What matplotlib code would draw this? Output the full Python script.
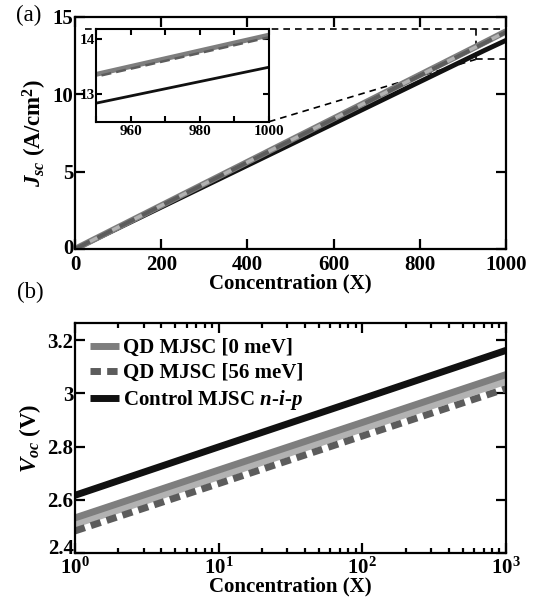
import numpy as np
import matplotlib
matplotlib.use("Agg")
from matplotlib import pyplot as plt
from matplotlib import transforms
from matplotlib.ticker import LogLocator, NullFormatter, FixedLocator

plt.rcParams['font.family'] = 'Liberation Serif'
plt.rcParams['font.weight'] = 'bold'
plt.rcParams['axes.labelweight'] = 'bold'
plt.rcParams['mathtext.fontset'] = 'custom'
plt.rcParams['mathtext.rm'] = 'Liberation Serif:bold'
plt.rcParams['mathtext.bf'] = 'Liberation Serif:bold'
plt.rcParams['mathtext.it'] = 'Liberation Serif:italic:bold'

# Jsc vs concentration (linear)
jsc_conc = [0, 950, 1000]
jsc_qd0 = [0, 13.36, 14.07]
jsc_qd_light = [0, 13.34, 14.05]
jsc_qd56 = [0, 13.32, 14.03]
jsc_ctrl = [0, 12.84, 13.49]

# zoom window drawn on main axes
box_x = [930, 1000]
box_y = [12.26, 14.20]

# Voc vs concentration (log)
voc_conc = [1, 10, 100, 1000]
voc_qd0 = [2.532, 2.712, 2.891, 3.071]
voc_qd_light = [2.508, 2.687, 2.867, 3.046]
voc_qd56 = [2.483, 2.661, 2.840, 3.018]
voc_ctrl = [2.617, 2.799, 2.980, 3.162]

legend_labels = ['QD MJSC [0 meV]', 'QD MJSC [56 meV]', 'Control MJSC $n$-$i$-$p$']

c_mid = '#7e7e7e'
c_light = '#b2b2b2'
c_dash = '#5c5c5c'
c_black = '#111111'

W, H = 537, 609
fig = plt.figure(figsize=(W / 100, H / 100), dpi=100)


def px_axes(l, t, r, b):
    return fig.add_axes([l / W, 1 - b / H, (r - l) / W, (b - t) / H])


def style(ax, size=15, major=7, minor=3.5, lw=1.6):
    for s in ax.spines.values():
        s.set_linewidth(lw)
    ax.tick_params(which='both', direction='in', top=True, right=True,
                   width=lw, labelsize=size)
    ax.tick_params(which='major', length=major)
    ax.tick_params(which='minor', length=minor)


def lift_first_ylabel(ax, pts):
    # nudge the lowest y tick label up so it clears the x tick labels
    lab = ax.yaxis.get_major_ticks()[0].label1
    lab.set_transform(lab.get_transform() +
                      transforms.ScaledTranslation(0, pts / 72, fig.dpi_scale_trans))


# ---- (a) Jsc ----
ax1 = px_axes(75, 17, 506, 249)
ax1.plot(jsc_conc, jsc_ctrl, color=c_black, lw=3.5, solid_capstyle='butt')
ax1.plot(jsc_conc, jsc_qd0, color=c_mid, lw=4.5, solid_capstyle='butt')
ax1.plot(jsc_conc, jsc_qd_light, color=c_light, lw=2.5, solid_capstyle='butt')
ax1.plot(jsc_conc, jsc_qd56, color=c_dash, lw=3, dashes=(4, 2))
ax1.set_xlim(0, 1000)
ax1.set_ylim(0, 15)
ax1.set_xticks([0, 200, 400, 600, 800, 1000])
ax1.set_yticks([0, 5, 10, 15])
style(ax1)
ax1.tick_params(axis='y', pad=1)
ax1.tick_params(axis='x', pad=4)
ax1.set_xlabel('Concentration (X)', fontsize=15, labelpad=-1)
ax1.set_ylabel('$J_{sc}$ (A/cm$^2$)', fontsize=16.5, labelpad=3)
lift_first_ylabel(ax1, 2)

# dashed zoom box and connectors
dk = dict(color='black', lw=1.2, ls=(0, (4, 3)), zorder=1)
ax1.plot([23, box_x[1]], [box_y[1], box_y[1]], **dk)
ax1.plot([box_x[0], box_x[1]], [box_y[0], box_y[0]], **dk)
ax1.plot([box_x[0], box_x[0]], [box_y[0], box_y[1]], **dk)
ax1.plot([450, box_x[0]], [8.23, box_y[0]], **dk)

fig.text(16 / W, 1 - 15 / H, '(a)', fontsize=16.5, fontweight='normal', va='center')

# inset
axi = px_axes(96, 29, 269, 122)
axi.plot(jsc_conc, jsc_ctrl, color=c_black, lw=2)
axi.plot(jsc_conc, jsc_qd0, color=c_mid, lw=3.5)
axi.plot(jsc_conc, jsc_qd56, color=c_dash, lw=1.8, dashes=(4, 2))
axi.set_xlim(950, 1000)
axi.set_ylim(12.5, 14.18)
axi.set_xticks([950, 960, 970, 980, 990, 1000])
axi.set_xticklabels(['', '960', '', '980', '', '1000'])
axi.set_yticks([13, 14])
axi.set_zorder(3)
style(axi, size=11, major=4, lw=1.5)
axi.tick_params(axis='y', pad=1)
axi.tick_params(axis='x', pad=2)

# ---- (b) Voc ----
ax2 = px_axes(75, 323, 506, 553)
ax2.plot(voc_conc, voc_qd_light, color=c_light, lw=5, solid_capstyle='butt')
ax2.plot(voc_conc, voc_qd0, color=c_mid, lw=5, solid_capstyle='butt',
         label=legend_labels[0])
ax2.plot(voc_conc, voc_qd56, color=c_dash, lw=5, dashes=(1.5, 0.9),
         label=legend_labels[1])
ax2.plot(voc_conc, voc_ctrl, color=c_black, lw=5, solid_capstyle='butt',
         label=legend_labels[2])
ax2.set_xscale('log')
ax2.set_xlim(1, 1000)
ax2.set_ylim(2.4, 3.265)
ax2.set_yticks([2.4, 2.6, 2.8, 3.0, 3.2])
ax2.set_yticklabels(['2.4', '2.6', '2.8', '3', '3.2'])
ax2.xaxis.set_major_locator(FixedLocator(voc_conc))
ax2.set_xticklabels(['$10^{0}$', '$10^{1}$', '$10^{2}$', '$10^{3}$'])
ax2.xaxis.set_minor_locator(LogLocator(base=10, subs=np.arange(2, 10), numticks=20))
ax2.xaxis.set_minor_formatter(NullFormatter())
style(ax2)
ax2.tick_params(axis='y', pad=1)
ax2.tick_params(axis='x', pad=3.5)
ax2.set_xlabel('Concentration (X)', fontsize=15, labelpad=-1.5)
ax2.set_ylabel('$V_{oc}$ (V)', fontsize=16.5, labelpad=3)
lift_first_ylabel(ax2, 4.5)
leg = ax2.legend(loc='upper left', frameon=False, fontsize=15, handlelength=1.4,
                 handletextpad=0.2, labelspacing=0.25, borderaxespad=0.2,
                 bbox_to_anchor=(0.005, 0.99))

fig.text(17 / W, 1 - 292 / H, '(b)', fontsize=16.5, fontweight='normal', va='center')

fig.savefig('out.png', dpi=100)
